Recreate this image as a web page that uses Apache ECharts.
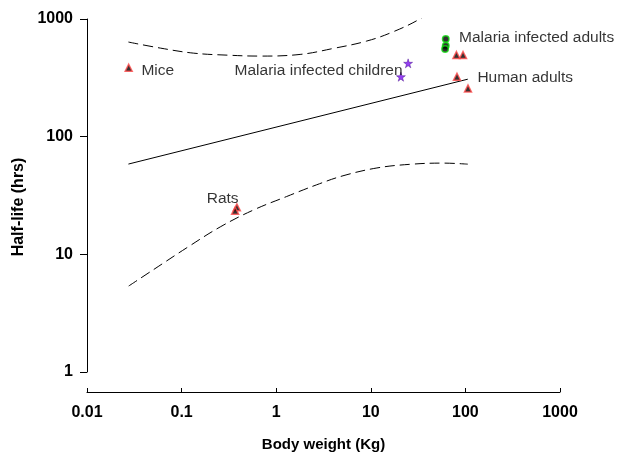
<!DOCTYPE html>
<html>
<head>
<meta charset="utf-8">
<script src="https://cdn.jsdelivr.net/npm/echarts@6/dist/echarts.min.js"></script>
<style>
    html, body { margin: 0; padding: 0; background: #fff; }
    #main { width: 621px; height: 457px; }
</style>
</head>
<body>
<div id="main"></div>
<script>
// tick labels
var xTickLabels = ['0.01', '0.1', '1', '10', '100', '1000'];
var yTickLabels = ['1', '10', '100', '1000'];

// observed points [body weight kg, half-life hrs]
var mice = [[0.0276, 385]];
var rats = [[0.384, 25.1], [0.368, 23.5]];
var humanAdults = [[80.4, 494], [94.4, 494], [81.5, 323], [106.5, 257]];
var malariaAdults = [[62, 675], [62, 592], [61, 555]];
var malariaChildren = [[24.8, 420], [20.8, 323]];

// allometric fit and confidence bands
var fitLine = [[0.0274, 58.5], [106, 308]];
var upperBand = [
    [0.0274, 637], [0.0596, 566], [0.133, 513], [0.303, 493], [0.676, 484],
    [1.79, 500], [4.01, 562], [9.03, 649], [17.2, 778], [33, 1000], [54, 1300]
];
var lowerBand = [
    [0.0276, 5.38], [0.0507, 7.43], [0.114, 11.4], [0.256, 17.1], [0.574, 23.8],
    [1.29, 31.0], [2.68, 39.0], [5.08, 46.5], [11.6, 54.2], [25.9, 58.2],
    [57.6, 59.6], [106, 58.4]
];

var font = '"Liberation Sans", Arial, sans-serif';
var starPath = 'path://M50,0 L61,35 L98,35 L68,57 L79,91 L50,70 L21,91 L32,57 L2,35 L39,35 Z';

function tickText(list, v) {
    var e = Math.round(Math.log10(v));
    var base = list === xTickLabels ? -2 : 0;
    return list[e - base] || '';
}

function labelled(point, text, align, offset) {
    return {
        value: point,
        label: {
            show: true,
            formatter: text,
            position: 'inside',
            align: align,
            offset: offset,
            color: '#000',
            textBorderWidth: 0,
            fontSize: 15.5,
            fontFamily: font
        }
    };
}

var triangleStyle = { color: '#000', borderColor: '#ff4a4a', borderWidth: 1.5 };

var option = {
    animation: false,
    backgroundColor: '#fff',
    grid: { left: 87, right: 61, top: 19, bottom: 85 },
    xAxis: {
        type: 'log',
        logBase: 10,
        min: 0.01,
        max: 1000,
        interval: 1,
        offset: 20,
        name: 'Body weight (Kg)',
        nameLocation: 'middle',
        nameGap: 45,
        nameTextStyle: { fontFamily: font, fontWeight: 'bold', fontSize: 15, color: '#000' },
        axisLine: { show: true, lineStyle: { color: '#000', width: 1 } },
        axisTick: { show: true, inside: true, length: 4, lineStyle: { color: '#000' } },
        minorTick: { show: false },
        splitLine: { show: false },
        axisLabel: {
            margin: 13,
            showMinLabel: true,
            showMaxLabel: true,
            color: '#000',
            fontWeight: 'bold',
            fontSize: 16,
            fontFamily: font,
            formatter: function (v) { return tickText(xTickLabels, v); }
        }
    },
    yAxis: {
        type: 'log',
        logBase: 10,
        min: 1,
        max: 1000,
        interval: 1,
        name: 'Half-life (hrs)',
        nameLocation: 'middle',
        nameGap: 58,
        nameTextStyle: {
            fontFamily: font, fontWeight: 'bold', fontSize: 16, color: '#000',
            padding: [0, 23, 0, 0]
        },
        axisLine: { show: true, lineStyle: { color: '#000', width: 1 } },
        axisTick: { show: true, inside: false, length: 7, lineStyle: { color: '#000' } },
        minorTick: { show: false },
        splitLine: { show: false },
        axisLabel: {
            margin: 14,
            showMinLabel: true,
            showMaxLabel: true,
            color: '#000',
            fontWeight: 'bold',
            fontSize: 16,
            fontFamily: font,
            formatter: function (v) { return tickText(yTickLabels, v); }
        }
    },
    series: [
        {
            name: 'fit',
            type: 'line',
            data: fitLine,
            showSymbol: false,
            lineStyle: { color: '#000', width: 1 },
            z: 1
        },
        {
            name: 'upper',
            type: 'line',
            data: upperBand,
            smooth: 0.4,
            showSymbol: false,
            clip: true,
            lineStyle: { color: '#000', width: 1, type: [10, 5] },
            z: 1
        },
        {
            name: 'lower',
            type: 'line',
            data: lowerBand,
            smooth: 0.4,
            showSymbol: false,
            lineStyle: { color: '#000', width: 1, type: [10, 5] },
            z: 1
        },
        {
            name: 'Mice',
            type: 'scatter',
            symbol: 'triangle',
            symbolSize: 7,
            itemStyle: triangleStyle,
            data: [labelled(mice[0], 'Mice', 'left', [12.7, 2.5])]
        },
        {
            name: 'Rats',
            type: 'scatter',
            symbol: 'triangle',
            symbolSize: 7,
            itemStyle: triangleStyle,
            data: [labelled(rats[0], 'Rats', 'center', [-14.2, -9]), rats[1]]
        },
        {
            name: 'Human adults',
            type: 'scatter',
            symbol: 'triangle',
            symbolSize: 7,
            itemStyle: triangleStyle,
            data: humanAdults.map(function (p, i) {
                return i === 2 ? labelled(p, 'Human adults', 'left', [20.4, 0.5]) : p;
            })
        },
        {
            name: 'Malaria infected adults',
            type: 'scatter',
            symbol: 'circle',
            symbolSize: 6.5,
            itemStyle: { color: '#000', borderColor: '#11dd11', borderWidth: 1.5 },
            data: malariaAdults.map(function (p, i) {
                return i === 0 ? labelled(p, 'Malaria infected adults', 'left', [13.3, -1.8]) : p;
            })
        },
        {
            name: 'Malaria infected children',
            type: 'scatter',
            symbol: starPath,
            symbolSize: 9,
            itemStyle: { color: '#7a10f0', borderColor: '#3a0080', borderWidth: 0.5 },
            data: malariaChildren.map(function (p, i) {
                return i === 1 ? labelled(p, 'Malaria infected children', 'right', [1.7, -5.7]) : p;
            })
        }
    ]
};

var myChart = echarts.init(document.getElementById('main'), null, { renderer: 'canvas' });
myChart.setOption(option);
</script>
</body>
</html>
